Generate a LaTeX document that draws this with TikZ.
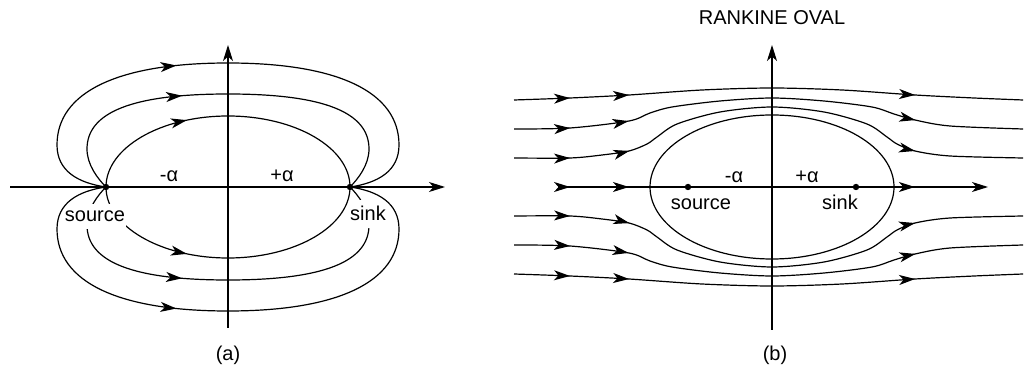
\documentclass[tikz,border=0pt]{standalone}
\usepackage{fontspec}
\setmainfont{Liberation Sans}
\usetikzlibrary{arrows.meta,decorations.markings}
\tikzset{
  >={Stealth[length=8pt,width=5pt,inset=2.2pt]},
  flow/.style={postaction={decorate,decoration={markings,mark=at position #1 with {\arrow{>}}}}},
  flowb/.style n args={3}{postaction={decorate,decoration={markings,
      mark=at position #1 with {\arrow{>}},
      mark=at position #2 with {\arrow{>}},
      mark=at position #3 with {\arrow{>}}}}},
  lbl/.style={fill=white,inner xsep=0.5pt,inner ysep=3.5pt,anchor=base},
  txt/.style={inner sep=0pt,anchor=base}
}
\newcommand{\innerhalf}{\draw[flow=0.366] (-122,0) arc[start angle=180,end angle=0,x radius=122,y radius=71];}
\newcommand{\middlehalf}{\draw[flow=0.390] (-122,0) .. controls (-130,8) and (-141,22) .. (-141,38)
  .. controls (-141,75) and (-95,93) .. (0,93) .. controls (95,93) and (141,75) .. (141,38)
  .. controls (141,22) and (130,8) .. (122,0);}
\newcommand{\outerhalf}{\draw[flow=0.408] (-122,0) .. controls (-150,4) and (-171,16) .. (-171,42)
  .. controls (-171,95) and (-110,124) .. (0,124) .. controls (110,124) and (171,95) .. (171,42)
  .. controls (171,16) and (150,4) .. (122,0);}
\newcommand{\upperstreams}{
  \draw[flowb={0.110}{0.226}{0.788}] plot[smooth] coordinates {(-258,87) (-202,89) (-143,92) (-70,97) (0,99) (70,97) (143,92) (202,89) (251,87)};
  \draw[flowb={0.109}{0.223}{0.790}] plot[smooth] coordinates {(-258,58) (-202,59) (-143,66) (-122,74) (-100,80) (-52,86) (0,89) (52,86) (100,80) (122,73) (143,67) (178,61) (251,58)};
  \draw[flowb={0.106}{0.219}{0.795}] plot[smooth] coordinates {(-258,29) (-202,29) (-170,32) (-143,36) (-125,43) (-115,50) (-95,63) (-52,75) (0,80) (52,75) (95,63) (115,50) (125,43) (143,36) (178,31) (251,29)};
}

\begin{document}
\begin{tikzpicture}[x=0.5pt,y=0.5pt,line width=0.6pt]
  \useasboundingbox (0,0) rectangle (1026,385);
  \begin{scope}[shift={(228,198)}]
    \draw[->] (-218,0) -- (217,0);
    \draw[->] (0,-141) -- (0,142);
    \innerhalf \middlehalf \outerhalf
    \begin{scope}[yscale=-1] \innerhalf \middlehalf \end{scope}
    \node[lbl] (srca) at (-133,-35) {source};
    \node[lbl] (snka) at (140,-34) {sink};
    \begin{scope}[yscale=-1] \outerhalf \end{scope}
    \fill (-122,0) circle (3.2);
    \fill (122,0) circle (3.2);
    \node[txt] (ma) at (-59,5) {-α};
    \node[txt] (pa) at (54,5) {+α};
    \node (capa) at (0,-168) {(a)};
  \end{scope}
  \begin{scope}[shift={(772,198)}]
    \draw (0,0) ellipse[x radius=122,y radius=72];
    \draw[->] (0,-143) -- (0,142);
    \draw[->,flowb={0.028}{0.165}{0.830}] (-214,0) -- (216,0);
    \upperstreams
    \begin{scope}[yscale=-1] \upperstreams \end{scope}
    \fill (-84,0) circle (3.2);
    \fill (84,0) circle (3.2);
    \node[txt] (srcb) at (-71,-23) {source};
    \node[txt] (snkb) at (68,-23) {sink};
    \node[txt] (mb) at (-38,4) {-α};
    \node[txt] (pb) at (35,4) {+α};
    \node (title) at (0,169) {RANKINE OVAL};
    \node (capb) at (3,-168) {(b)};
  \end{scope}
\end{tikzpicture}
\end{document}
